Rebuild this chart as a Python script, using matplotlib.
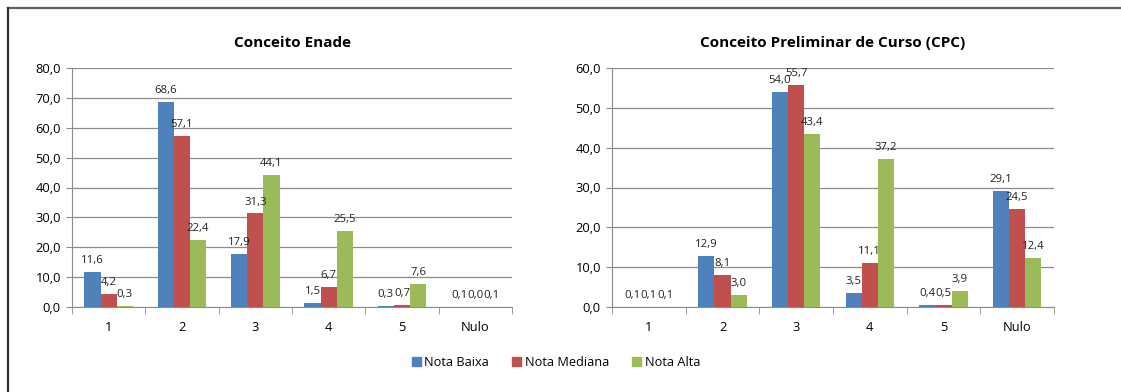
import matplotlib
matplotlib.use("Agg")
import matplotlib.pyplot as plt
import numpy as np
from matplotlib.lines import Line2D
from matplotlib.patches import Patch

categories = ["1", "2", "3", "4", "5", "Nulo"]
series = ["Nota Baixa", "Nota Mediana", "Nota Alta"]
colors = ["#4F81BD", "#C0504D", "#9BBB59"]

enade_baixa = [11.6, 68.6, 17.9, 1.5, 0.3, 0.1]
enade_mediana = [4.2, 57.1, 31.3, 6.7, 0.7, 0.0]
enade_alta = [0.3, 22.4, 44.1, 25.5, 7.6, 0.1]

cpc_baixa = [0.1, 12.9, 54.0, 3.5, 0.4, 29.1]
cpc_mediana = [0.1, 8.1, 55.7, 11.1, 0.5, 24.5]
cpc_alta = [0.1, 3.0, 43.4, 37.2, 3.9, 12.4]

plt.rcParams['font.family'] = ['Open Sans', 'DejaVu Sans']

fig = plt.figure(figsize=(11.21, 3.92), dpi=100)
W, H = 1121.0, 392.0


def draw_chart(ax, data, title, ymax, step):
    x = np.arange(len(categories))
    w = 0.22
    for i, vals in enumerate(data):
        pos = x + (i - 1) * w
        ax.bar(pos, vals, width=w, color=colors[i], zorder=3)
        for p, v in zip(pos, vals):
            ax.text(p, v + ymax * 0.025, ("%.1f" % v).replace(".", ","),
                    ha="center", va="bottom", fontsize=8.2, color="#222222",
                    zorder=4)
    ax.set_xlim(-0.5, len(categories) - 0.5)
    ax.set_ylim(0, ymax)
    yt = np.arange(0, ymax + step / 2, step)
    ax.set_yticks(yt)
    ax.set_yticklabels([("%.1f" % t).replace(".", ",") for t in yt], fontsize=9.3)
    ax.yaxis.grid(True, color="#8c8c8c", linewidth=0.9, zorder=0)
    ax.set_xticks(x)
    ax.set_xticklabels(categories, fontsize=9.3)
    ax.tick_params(axis="x", length=0, pad=10)
    ax.tick_params(axis="y", length=4, color="#8c8c8c", pad=4)
    # category separator ticks
    ax.set_xticks(np.arange(-0.5, len(categories)), minor=True)
    ax.tick_params(axis="x", which="minor", length=5, color="#8c8c8c",
                   direction="out")
    for s in ["top", "right"]:
        ax.spines[s].set_visible(False)
    for s in ["left", "bottom"]:
        ax.spines[s].set_color("#8c8c8c")
    ax.set_title(title, fontsize=11, fontweight="bold", pad=15)


ax1 = fig.add_axes([72 / W, 1 - 307 / H, (512 - 72) / W, (307 - 68) / H])
draw_chart(ax1, [enade_baixa, enade_mediana, enade_alta],
           "Conceito Enade", 80, 10)

ax2 = fig.add_axes([612 / W, 1 - 307 / H, (1054 - 612) / W, (307 - 68) / H])
draw_chart(ax2, [cpc_baixa, cpc_mediana, cpc_alta],
           "Conceito Preliminar de Curso (CPC)", 60, 10)

handles = [Patch(color=c, label=s) for c, s in zip(colors, series)]
fig.legend(handles=handles, loc="center", bbox_to_anchor=(556 / W, 1 - 362 / H),
           ncol=3, frameon=False, fontsize=9.2, handlelength=0.7,
           handleheight=0.7, handletextpad=0.3, columnspacing=1.8)

# outer frame (top and left edges)
fig.add_artist(Line2D([7.5 / W, 1.0], [1 - 7.5 / H, 1 - 7.5 / H],
                      color="#606060", linewidth=1.6, transform=fig.transFigure))
fig.add_artist(Line2D([7.5 / W, 7.5 / W], [0, 1 - 7.5 / H],
                      color="#303030", linewidth=1.6, transform=fig.transFigure))

fig.savefig("out.png", dpi=100)
